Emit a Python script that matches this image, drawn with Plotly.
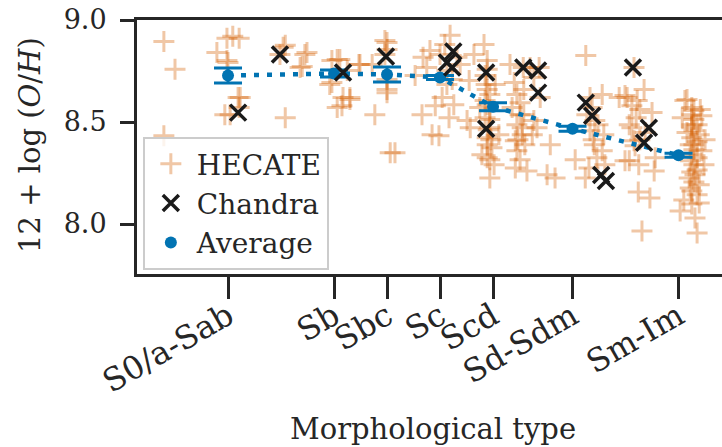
import plotly.graph_objects as go

# Category tick positions (morphological T-type)
cat_pos = [1, 3, 4, 5, 6, 7.5, 9.5]
cat_labels = ["S0/a-Sab", "Sb", "Sbc", "Sc", "Scd", "Sd-Sdm", "Sm-Im"]

# Average metallicity per category
avg_y = [8.728, 8.738, 8.733, 8.718, 8.575, 8.467, 8.337]
avg_err = [0.037, 0.017, 0.037, 0.01, 0.02, 0.012, 0.01]

# Chandra galaxies
chandra_x = [1.98, 1.19, 3.17, 3.98, 5.25, 5.13, 5.23, 5.87, 5.87, 6.57, 6.85, 6.85,
             7.75, 7.87, 8.04, 8.13, 8.64, 8.94, 8.85]
chandra_y = [8.831, 8.546, 8.743, 8.821, 8.846, 8.792, 8.767, 8.743, 8.467, 8.767, 8.752, 8.644,
             8.595, 8.531, 8.240, 8.211, 8.767, 8.472, 8.398]

# HECATE galaxies
hecate_x = [
    -0.21, 0.0, 0.98, 1.09, 0.79, 0.98, 1.0, 1.19, 0.94, 1.04, -0.21, 1.21, 1.23, 1.21,
    2.08, 2.04, 1.98, 2.08, 2.45, 2.49, 2.40, 2.36,
    2.96, 2.92, 3.06, 2.96, 3.06, 3.11, 3.17, 3.25, 3.30, 3.15, 3.47, 3.49, 3.30,
    3.72, 3.96, 4.0, 3.96, 4.0, 4.0, 4.0, 3.77, 4.06, 4.15, 4.0,
    4.53, 4.66, 4.68, 4.75, 4.81, 4.85, 4.91, 4.98, 5.0, 5.04, 5.13, 5.13, 5.17, 5.19, 5.26,
    5.32, 5.38, 5.23, 5.09, 5.51, 5.57, 5.55, 5.64,
    5.83, 5.89, 5.85, 5.89, 5.85, 5.94, 5.85, 5.94, 5.89, 5.98, 5.89, 6.02, 5.94, 5.79, 6.11,
    6.04, 5.75, 5.89, 5.94, 5.89, 5.94, 5.89, 5.94, 5.91, 5.87, 5.96,
    6.32, 6.40, 6.45, 6.51, 6.36, 6.58, 6.45, 6.55, 6.42, 6.60, 6.45, 6.42, 6.64, 6.70, 6.77,
    6.77, 6.74, 6.57, 6.89, 6.87, 6.83, 7.08, 7.02, 7.17, 6.51, 6.55, 6.47, 6.51, 6.58,
    7.55, 7.74, 7.75, 7.81, 7.83, 7.77, 7.92, 7.83, 8.09, 7.91, 8.06, 7.96, 8.11, 8.06, 7.87,
    7.98, 7.89,
    8.38, 8.49, 8.62, 8.57, 8.66, 8.49, 8.74, 8.81, 8.66, 8.85, 8.53, 8.72, 8.77, 9.0, 8.62,
    8.87, 8.68, 8.57, 8.75, 9.06, 9.04, 8.96, 8.70, 8.77,
    9.62, 9.57, 9.75, 9.91, 9.75, 9.89, 9.79, 9.94, 9.72, 9.85, 9.70, 9.89, 9.75, 9.60, 9.89,
    9.53, 9.81, 9.85, 9.72, 9.79, 9.94, 9.66, 9.81, 9.75, 10.0, 9.98, 9.66,
    9.75, 9.79, 9.75, 9.79, 9.75, 9.79, 9.75, 9.79, 9.85, 9.75, 9.85, 9.85, 9.72, 9.85, 9.79,
]
hecate_y = [
    8.895, 8.758, 8.910, 8.920, 8.841, 8.802, 8.792, 8.620, 8.536, 8.536, 8.433, 8.910, 8.620, 8.571,
    8.876, 8.866, 8.831, 8.521, 8.831, 8.841, 8.772, 8.767,
    8.802, 8.684, 8.807, 8.694, 8.571, 8.807, 8.620, 8.753, 8.620, 8.580, 8.782, 8.782, 8.610,
    8.782, 8.900, 8.890, 8.831, 8.708, 8.659, 8.644, 8.536, 8.349, 8.349, 8.856,
    8.728, 8.536, 8.817, 8.767, 8.851, 8.438, 8.580, 8.433, 8.831, 8.620, 8.753, 8.684, 8.521, 8.925, 8.585,
    8.817, 8.782, 8.708, 8.880, 8.507, 8.472, 8.703, 8.831,
    8.880, 8.802, 8.728, 8.659, 8.605, 8.556, 8.521, 8.472, 8.423, 8.374, 8.325, 8.290, 8.226, 8.339, 8.438,
    8.684, 8.571, 8.758, 8.635, 8.585, 8.512, 8.389, 8.315, 8.462, 8.684, 8.413,
    8.782, 8.694, 8.635, 8.595, 8.571, 8.536, 8.487, 8.438, 8.408, 8.389, 8.359, 8.275, 8.260, 8.767, 8.718,
    8.507, 8.438, 8.767, 8.620, 8.767, 8.472, 8.389, 8.241, 8.226, 8.536, 8.472, 8.413, 8.315, 8.659,
    8.315, 8.226, 8.826, 8.275, 8.620, 8.536, 8.507, 8.457, 8.438, 8.389, 8.359, 8.325, 8.290, 8.635, 8.571,
    8.487, 8.413,
    8.620, 8.630, 8.580, 8.487, 8.408, 8.310, 8.157, 7.966, 8.767, 8.659, 8.620, 8.605, 8.561, 8.546, 8.472,
    8.448, 8.384, 8.310, 8.290, 8.325, 8.260, 8.128, 8.521, 8.413,
    8.605, 8.521, 8.536, 8.561, 8.487, 8.438, 8.389, 8.359, 8.310, 8.265, 8.226, 8.192, 8.162, 8.118, 8.103,
    8.064, 8.029, 7.956, 8.389, 8.457, 8.531, 8.448, 8.241, 8.098, 8.413, 8.290, 8.610,
    8.571, 8.512, 8.423, 8.364, 8.339, 8.290, 8.255, 8.206, 8.143, 8.472, 8.403, 8.325, 8.177, 8.487, 8.556,
]

ORANGE = "rgba(213,94,0,0.35)"
BLUE = "#0173b2"
INK = "#262626"
FONT = "DejaVu Serif, serif"

fig = go.Figure()

fig.add_trace(go.Scatter(
    x=hecate_x, y=hecate_y, mode="markers", name="HECATE", legendrank=1,
    marker=dict(symbol="cross-thin", size=15, line=dict(color=ORANGE, width=3)),
))

fig.add_trace(go.Scatter(
    x=cat_pos, y=avg_y, mode="lines", showlegend=False, hoverinfo="skip",
    line=dict(color=BLUE, width=4.5, dash="5px,8px"),
))

fig.add_trace(go.Scatter(
    x=cat_pos, y=avg_y, mode="markers", name="Average", legendrank=3,
    marker=dict(symbol="circle", size=12, color=BLUE),
    error_y=dict(type="data", array=avg_err, color=BLUE, thickness=3, width=14),
))

fig.add_trace(go.Scatter(
    x=chandra_x, y=chandra_y, mode="markers", name="Chandra", legendrank=2,
    marker=dict(symbol="x-thin", size=16, line=dict(color="#1a1a1a", width=3.5)),
))

fig.update_layout(
    width=722, height=447,
    margin=dict(l=137, r=0, t=20, b=173),
    plot_bgcolor="white", paper_bgcolor="white",
    font=dict(family=FONT, color=INK, size=28),
    legend=dict(
        x=0.01, y=0.016, xanchor="left", yanchor="bottom",
        bgcolor="rgba(255,255,255,0.8)", bordercolor="#cccccc", borderwidth=2,
        font=dict(family=FONT, size=28, color=INK),
        tracegroupgap=0, itemwidth=42,
    ),
    xaxis=dict(
        range=[-0.717, 10.32], tickvals=cat_pos, ticktext=cat_labels,
        tickangle=-30, ticks="outside", ticklen=22, tickwidth=3, tickcolor=INK,
        showline=True, linewidth=3, linecolor=INK, mirror=True,
        showgrid=False, zeroline=False, ticklabelstandoff=-14,
        tickfont=dict(family=FONT, size=32, color=INK),
    ),
    yaxis=dict(
        range=[7.755, 9.0], tickvals=[8.0, 8.5, 9.0], ticktext=["8.0", "8.5", "9.0"],
        ticks="outside", ticklen=14, tickwidth=3, tickcolor=INK,
        showline=True, linewidth=3, linecolor=INK, mirror=False,
        showgrid=False, zeroline=False, ticklabelstandoff=8,
        tickfont=dict(family=FONT, size=27, color=INK),
    ),
    annotations=[
        dict(text="12 + log (<i>O</i>/<i>H</i>)", xref="paper", yref="paper",
             x=-0.183, y=0.508, textangle=-90, showarrow=False,
             font=dict(family=FONT, size=29, color=INK), xanchor="center", yanchor="middle"),
        dict(text="Morphological type", xref="paper", yref="paper",
             x=0.506, y=-0.61, showarrow=False,
             font=dict(family=FONT, size=29, color=INK), xanchor="center", yanchor="middle"),
    ],
)

fig.write_html("out.html")
